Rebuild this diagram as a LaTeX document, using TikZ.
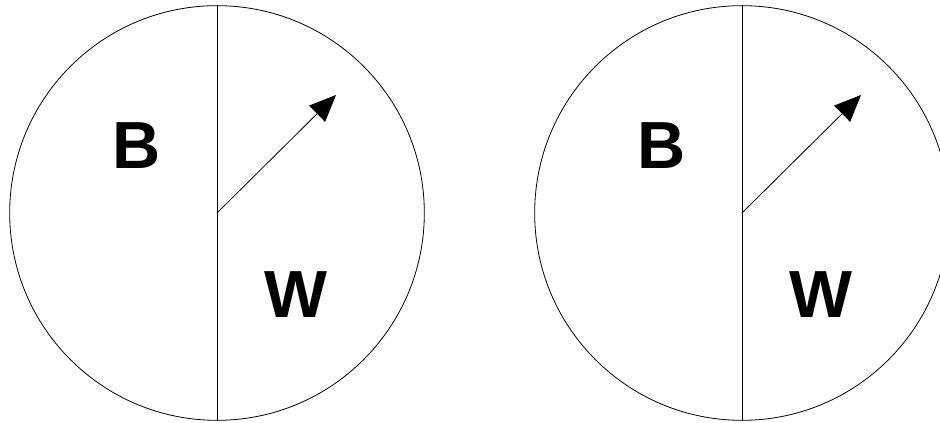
\documentclass[tikz,border=0pt]{standalone}
\usepackage{fontspec}
\setmainfont{Liberation Sans}
\usetikzlibrary{arrows.meta, positioning}

\begin{document}
\begin{tikzpicture}[
    x=0.75pt, y=-0.75pt,
    disk/.style={draw, circle, minimum size=311pt, inner sep=0pt, line width=0.6pt},
    letter/.style={font=\fontsize{50}{50}\selectfont\bfseries, inner sep=0pt},
    arrow/.style={-{Triangle[length=20pt, width=17pt]}, line width=0.6pt}
]
\useasboundingbox (0,0) rectangle (940,423);
\node[disk] (left) at (217,213) {};
\node[disk] (right) at (742,213) {};
\draw[line width=0.6pt] (left.north) -- (left.south);
\draw[line width=0.6pt] (right.north) -- (right.south);
\coordinate (lefttip) at (336,95);
\coordinate (righttip) at (861,95);
\draw[arrow] (left.center) -- (lefttip);
\draw[arrow] (right.center) -- (righttip);
\node[letter] (lb) at (137,146) {B};
\node[letter] (lw) at (296,295) {W};
\node[letter] (rb) at (662,146) {B};
\node[letter] (rw) at (821,295) {W};
\end{tikzpicture}
\end{document}
